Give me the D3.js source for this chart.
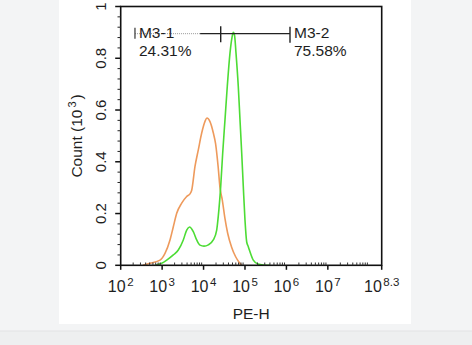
<!DOCTYPE html>
<html>
<head>
<meta charset="utf-8">
<script src="https://cdn.jsdelivr.net/npm/d3@7/dist/d3.min.js"></script>
<style>
  html, body { margin: 0; padding: 0; background: #f3f4f5; }
  svg { display: block; }
  text { font-family: "Liberation Sans", Arial, Helvetica, sans-serif; fill: #1e1e1e; }
</style>
</head>
<body>
<svg id="chart" width="472" height="345"></svg>
<script>
// PE-H intensity (x) and event count in thousands (y) for the two histograms
const controlPE    = [345, 509, 889, 1172, 1549, 1862, 2249, 2967, 3917, 4707, 5176, 6213, 7467, 9016, 10835, 12104, 14295, 17170, 19500, 22450, 24940, 28300, 32900, 38200, 47600, 59500, 72000, 83200];
const controlCount = [0, 0.008, 0.02, 0.046, 0.098, 0.149, 0.201, 0.240, 0.266, 0.276, 0.29, 0.382, 0.446, 0.511, 0.556, 0.569, 0.555, 0.512, 0.47, 0.382, 0.30, 0.253, 0.18, 0.124, 0.07, 0.033, 0.012, 0];

const stainedPE    = [673, 977, 1290, 1862, 2457, 3243, 3917, 4577, 5654, 6826, 8199, 10250, 13010, 17170, 20750, 22680, 25940, 28980, 32900, 37400, 43450, 48550, 52230, 55820, 60700, 68900, 75800, 83300, 91000, 100000, 110000, 120200, 158500, 205900, 276500, 401700];
const stainedCount = [0, 0.008, 0.02, 0.04, 0.059, 0.098, 0.136, 0.148, 0.13, 0.098, 0.078, 0.074, 0.079, 0.098, 0.136, 0.19, 0.305, 0.434, 0.562, 0.692, 0.82, 0.88, 0.90, 0.89, 0.82, 0.691, 0.562, 0.434, 0.305, 0.175, 0.09, 0.072, 0.02, 0.005, 0.001, 0];

// Marker gates: [low, high] PE-H bounds, with their reported percentages
const gateNames   = ["M3-1", "M3-2"];
const gateBounds  = [[221, 25940], [25940, 1220000]];
const gatePercent = ["24.31%", "75.58%"];
const gateLevel   = 0.895;

// Axis ticks
const xMajorExp  = [2, 3, 4, 5, 6, 7, 8.3];
const yMajor     = [0, 0.2, 0.4, 0.6, 0.8, 1];

const svg = d3.select("#chart");

// white panel behind the figure and the page strip under it
svg.append("rect").attr("x", 59).attr("y", 0).attr("width", 352).attr("height", 324).attr("fill", "#ffffff");
svg.append("rect").attr("x", 0).attr("y", 331).attr("width", 472).attr("height", 14).attr("fill", "#eeeff0");
svg.append("line").attr("x1", 0).attr("x2", 472).attr("y1", 331).attr("y2", 331).attr("stroke", "#e2e3e4");

const L = 120.7, R = 381.7, T = 6.5, B = 265.3;

const x = d3.scaleLog().domain([1e2, Math.pow(10, 8.3)]).range([L, R]);
const y = d3.scaleLinear().domain([0, 1]).range([B, T]);

const line = d3.line()
  .x((d) => x(d[0]))
  .y((d) => y(d[1]))
  .curve(d3.curveMonotoneX);

const plot = svg.append("g");

// histogram traces
plot.append("path")
  .datum(controlPE.map((v, i) => [v, controlCount[i]]))
  .attr("d", line)
  .attr("fill", "none")
  .attr("stroke", "#ee9a5c")
  .attr("stroke-width", 1.6);

plot.append("path")
  .datum(stainedPE.map((v, i) => [v, stainedCount[i]]))
  .attr("d", line)
  .attr("fill", "none")
  .attr("stroke", "#4ddc35")
  .attr("stroke-width", 1.6);

// frame
svg.append("rect")
  .attr("x", L).attr("y", T)
  .attr("width", R - L).attr("height", B - T)
  .attr("fill", "none").attr("stroke", "#111").attr("stroke-width", 1.6);

// y axis: major ticks + minor ticks every 0.04
const yMinor = d3.range(0, 1.0001, 0.04).filter((v) => !yMajor.some((m) => Math.abs(m - v) < 1e-6));
svg.selectAll(".ymin").data(yMinor).join("line")
  .attr("x1", L - 3.2).attr("x2", L)
  .attr("y1", (d) => y(d)).attr("y2", (d) => y(d))
  .attr("stroke", "#222").attr("stroke-width", 1);
svg.selectAll(".ymaj").data(yMajor).join("line")
  .attr("x1", L - 5.5).attr("x2", L)
  .attr("y1", (d) => y(d)).attr("y2", (d) => y(d))
  .attr("stroke", "#111").attr("stroke-width", 1.5);
svg.selectAll(".ylab").data(yMajor).join("text")
  .attr("transform", (d) => `translate(106,${y(d)}) rotate(-90)`)
  .attr("text-anchor", "middle")
  .attr("font-size", 15)
  .text((d) => d === 0 || d === 1 ? String(d) : d.toFixed(1));

// x axis: decade ticks pointing down, minor ticks pointing up
const xMinor = [];
for (let e = 2; e <= 8; e++) {
  for (let k = 2; k <= 9; k++) {
    const v = k * Math.pow(10, e);
    if (v < Math.pow(10, 8.3)) xMinor.push(v);
  }
}
svg.selectAll(".xmin").data(xMinor).join("line")
  .attr("x1", (d) => x(d)).attr("x2", (d) => x(d))
  .attr("y1", B - 2.8).attr("y2", B)
  .attr("stroke", "#333").attr("stroke-width", 1);
svg.selectAll(".xmaj").data(xMajorExp).join("line")
  .attr("x1", (d) => x(Math.pow(10, d))).attr("x2", (d) => x(Math.pow(10, d)))
  .attr("y1", B).attr("y2", B + 4.5)
  .attr("stroke", "#111").attr("stroke-width", 1.5);

const xl = svg.selectAll(".xlab").data(xMajorExp).join("text")
  .attr("x", (d) => x(Math.pow(10, d)))
  .attr("y", 292.3)
  .attr("text-anchor", "middle")
  .attr("font-size", 16);
xl.append("tspan").text("10");
xl.append("tspan").attr("dx", 1.5).attr("dy", -6.5).attr("font-size", 11.5).text((d) => String(d));

// axis titles
svg.append("text")
  .attr("x", (L + R) / 2).attr("y", 318.5)
  .attr("text-anchor", "middle").attr("font-size", 15.5)
  .text("PE-H");

const yt = svg.append("text")
  .attr("transform", `translate(81.5,${(T + B) / 2}) rotate(-90)`)
  .attr("text-anchor", "middle").attr("font-size", 15.5);
yt.append("tspan").text("Count  (10");
yt.append("tspan").attr("dx", 2).attr("dy", -6).attr("font-size", 11).text("3");
yt.append("tspan").attr("dx", 2).attr("dy", 6).text(")");

// marker gates
const gy = y(gateLevel);
const g0 = gateBounds[0], g1 = gateBounds[1];
const xs = x(g0[0]), xm = x(g0[1]), xe = x(g1[1]);
const dotEnd = xs + 0.76 * (xm - xs);

svg.append("line").attr("x1", xs).attr("x2", dotEnd).attr("y1", gy).attr("y2", gy)
  .attr("stroke", "#999").attr("stroke-width", 1).attr("stroke-dasharray", "1,1");
svg.append("line").attr("x1", dotEnd).attr("x2", xe).attr("y1", gy).attr("y2", gy)
  .attr("stroke", "#222").attr("stroke-width", 1.4);
svg.append("line").attr("x1", xs).attr("x2", xs).attr("y1", gy - 6).attr("y2", gy + 5)
  .attr("stroke", "#333").attr("stroke-width", 1.2);
svg.append("line").attr("x1", xm).attr("x2", xm).attr("y1", gy - 7.5).attr("y2", gy + 8.5)
  .attr("stroke", "#222").attr("stroke-width", 1.4);
svg.append("line").attr("x1", xe).attr("x2", xe).attr("y1", gy - 7).attr("y2", gy + 9)
  .attr("stroke", "#222").attr("stroke-width", 1.4);

[xs, xm].forEach((gx, i) => {
  const lx = (i === 0 ? xs : xe) + 4;
  svg.append("text").attr("x", lx).attr("y", gy + 4.5).attr("font-size", 15.5).text(gateNames[i]);
  svg.append("text").attr("x", lx).attr("y", gy + 22).attr("font-size", 15.5).text(gatePercent[i]);
});
</script>
</body>
</html>
